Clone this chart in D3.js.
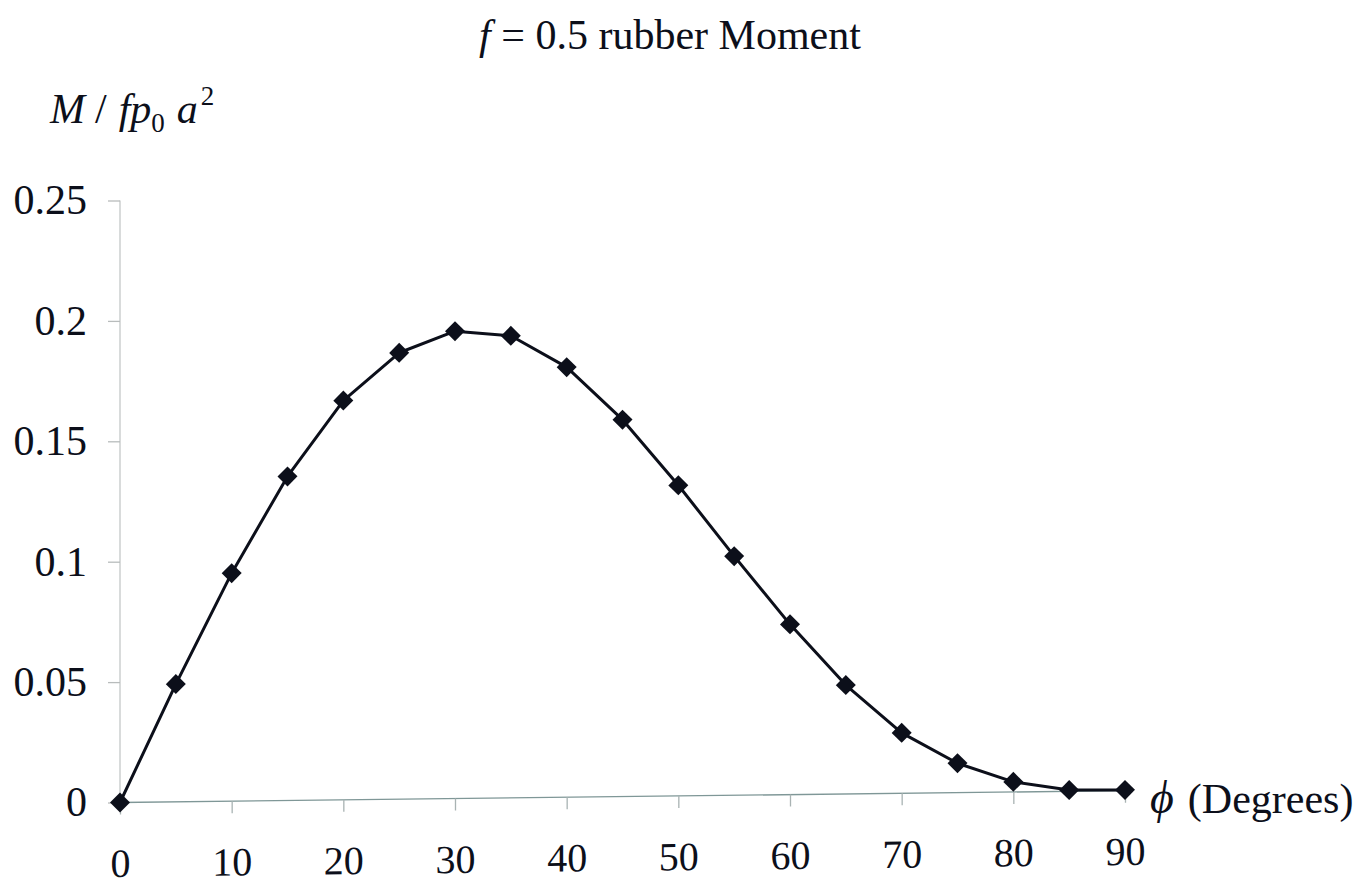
<!DOCTYPE html>
<html>
<head>
<meta charset="utf-8">
<script src="https://cdn.jsdelivr.net/npm/d3@7"></script>
<style>
  html, body { margin: 0; padding: 0; background: #fff; }
  svg { display: block; font-family: "Liberation Serif", "Times New Roman", serif; }
</style>
</head>
<body>
<svg id="chart" width="1361" height="889"></svg>
<script>
// Moment curve for f = 0.5 rubber, sampled every 5 degrees
const angles = [0, 5, 10, 15, 20, 25, 30, 35, 40, 45, 50, 55, 60, 65, 70, 75, 80, 85, 90];
const moments = [0, 0.0489, 0.0947, 0.1346, 0.1658, 0.1854, 0.1941, 0.1919, 0.1786, 0.1565,
                 0.1290, 0.0993, 0.0707, 0.0452, 0.0251, 0.0122, 0.0042, 0.0005, 0.0003];
const xTicks = [0, 10, 20, 30, 40, 50, 60, 70, 80, 90];
const yTicks = [0, 0.05, 0.1, 0.15, 0.2, 0.25];
const yTickLabels = ["0", "0.05", "0.1", "0.15", "0.2", "0.25"];

const svg = d3.select("#chart");
const ox = 120, oy = 802.5;
const inkColor = "#0c0f1a";

const x = d3.scaleLinear().domain([0, 90]).range([0, 1005]);
const y = d3.scaleLinear().domain([0, 0.25]).range([0, -602]);

// Title
const title = svg.append("text")
  .attr("x", 670).attr("y", 49)
  .attr("text-anchor", "middle")
  .attr("font-size", 42)
  .attr("fill", inkColor);
title.append("tspan").attr("font-style", "italic").text("f");
title.append("tspan").text(" = 0.5 rubber Moment");

// Y-axis title: M / f p0 a^2
const yTitle = svg.append("text")
  .attr("x", 50).attr("y", 123)
  .attr("font-size", 42)
  .attr("fill", inkColor);
yTitle.append("tspan").attr("font-style", "italic").text("M");
yTitle.append("tspan").attr("dx", 10).text("/");
yTitle.append("tspan").attr("dx", 12).attr("font-style", "italic").text("fp");
yTitle.append("tspan").attr("font-size", 27).attr("dy", 9).text("0");
yTitle.append("tspan").attr("font-style", "italic").attr("dx", 12).attr("dy", -9).text("a");
yTitle.append("tspan").attr("font-size", 27).attr("dx", 3).attr("dy", -18).text("2");

// Y axis (vertical, unskewed)
const yAxisG = svg.append("g").attr("transform", `translate(${ox},${oy})`);
yAxisG.call(d3.axisLeft(y).tickValues(yTicks).tickSize(12).tickPadding(21)
    .tickFormat((d, i) => yTickLabels[i]))
  .call(g => g.select(".domain").attr("stroke", "#c4c8c8").attr("stroke-width", 1.3))
  .call(g => g.selectAll(".tick line").attr("stroke", "#b8bcbc").attr("stroke-width", 1.3))
  .call(g => g.selectAll(".tick text")
    .attr("font-family", "Liberation Serif, serif")
    .attr("font-size", 42)
    .attr("fill", inkColor));
yAxisG.select(".domain").attr("d", `M0,${y(0)}V${y(0.25)}`);

// Plot area: the horizontal axis runs with a slight upward slope,
// so the baseline and the data share a small vertical shear.
const plot = svg.append("g")
  .attr("transform", `translate(${ox},${oy}) skewY(-0.676)`);

const xAxisG = plot.append("g");
xAxisG.call(d3.axisBottom(x).tickValues(xTicks).tickSize(12).tickPadding(34))
  .call(g => g.select(".domain").attr("d", `M${x(0)},0H${x(90)}`)
    .attr("stroke", "#7f9797").attr("stroke-width", 1.4))
  .call(g => g.selectAll(".tick line").attr("stroke", "#a9b3b3").attr("stroke-width", 1.3))
  .call(g => g.selectAll(".tick text")
    .attr("font-family", "Liberation Serif, serif")
    .attr("font-size", 40)
    .attr("fill", inkColor));

// Curve
const pts = angles.map((a, i) => [a, moments[i]]);
plot.append("path")
  .datum(pts)
  .attr("fill", "none")
  .attr("stroke", inkColor)
  .attr("stroke-width", 3)
  .attr("stroke-linejoin", "round")
  .attr("d", d3.line().x(d => x(d[0])).y(d => y(d[1])));

// Diamond markers
const diamond = d3.symbol().type(d3.symbolSquare).size(200);
plot.selectAll(".marker")
  .data(pts)
  .join("path")
  .attr("class", "marker")
  .attr("fill", inkColor)
  .attr("transform", d => `translate(${x(d[0])},${y(d[1])}) rotate(45)`)
  .attr("d", diamond);

// X-axis title
const xTitle = svg.append("text")
  .attr("x", 1150).attr("y", 813)
  .attr("font-size", 42)
  .attr("fill", inkColor);
xTitle.append("tspan").attr("font-style", "italic").attr("font-size", 46).text("\u03D5");
xTitle.append("tspan").attr("dx", 14).text("(Degrees)");
</script>
</body>
</html>
